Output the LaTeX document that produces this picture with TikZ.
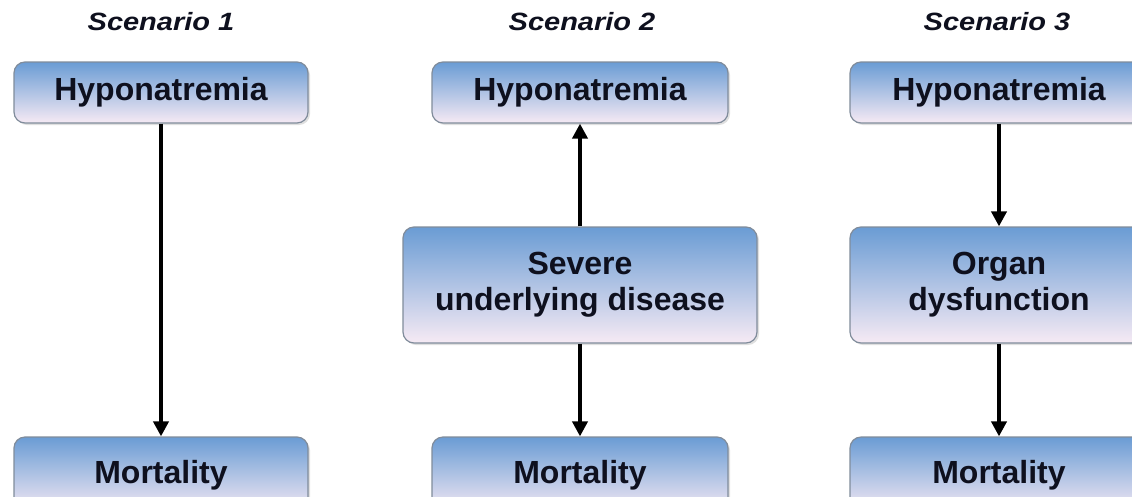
\documentclass[tikz,border=0pt]{standalone}
\usepackage{fontspec}
\setmainfont{Liberation Sans}
\usetikzlibrary{arrows.meta,shadows}
\definecolor{boxtop}{RGB}{106,156,212}
\definecolor{boxmid}{RGB}{172,208,238}
\definecolor{boxbot}{RGB}{246,234,244}
\definecolor{boxline}{RGB}{128,140,155}
\definecolor{txt}{RGB}{14,16,30}
\tikzset{
  box/.style={draw=boxline, line width=1.2pt, rounded corners=11pt,
    top color=boxtop, middle color=boxmid, bottom color=boxbot,
    drop shadow={opacity=0.25, shadow xshift=2pt, shadow yshift=-2pt},
    text=txt, font=\fontsize{32}{36}\selectfont\bfseries, align=center,
    inner sep=0pt},
  title/.style={text=txt, font=\fontsize{25}{28}\selectfont\bfseries\itshape, inner sep=0pt},
  arr/.style={line width=3.8pt, draw=black, -{Triangle[width=15pt,length=15pt]}}
}
\begin{document}
\begin{tikzpicture}[x=1pt,y=-1pt]
\useasboundingbox (0,0) rectangle (1132,496);
\clip (0,0) rectangle (1132,496);
\fill[white] (0,0) rectangle (1132,496);
% titles
\node[title] (t1) at (161,22) {\scalebox{1.16}[1]{Scenario 1}};
\node[title] (t2) at (582,22) {\scalebox{1.16}[1]{Scenario 2}};
\node[title] (t3) at (997,22) {\scalebox{1.16}[1]{Scenario 3}};
% scenario 1
\node[box, minimum width=294pt, minimum height=61pt] (h1) at (161,92.5) {Hyponatremia};
\node[box, minimum width=294pt, minimum height=76pt] (m1) at (161,475) {Mortality};
% scenario 2
\node[box, minimum width=296pt, minimum height=61pt] (h2) at (580,92.5) {Hyponatremia};
\node[box, minimum width=354pt, minimum height=116pt] (s2) at (580,285) {Severe\\underlying disease};
\node[box, minimum width=296pt, minimum height=76pt] (m2) at (580,475) {Mortality};
% scenario 3
\node[box, minimum width=298pt, minimum height=61pt] (h3) at (999,92.5) {Hyponatremia};
\node[box, minimum width=298pt, minimum height=116pt] (o3) at (999,285) {Organ\\dysfunction};
\node[box, minimum width=298pt, minimum height=76pt] (m3) at (999,475) {Mortality};
% arrows
\draw[arr] (h1.south) -- (m1.north);
\draw[arr] (s2.north) -- (h2.south);
\draw[arr] (s2.south) -- (m2.north);
\draw[arr] (h3.south) -- (o3.north);
\draw[arr] (o3.south) -- (m3.north);
\end{tikzpicture}
\end{document}
